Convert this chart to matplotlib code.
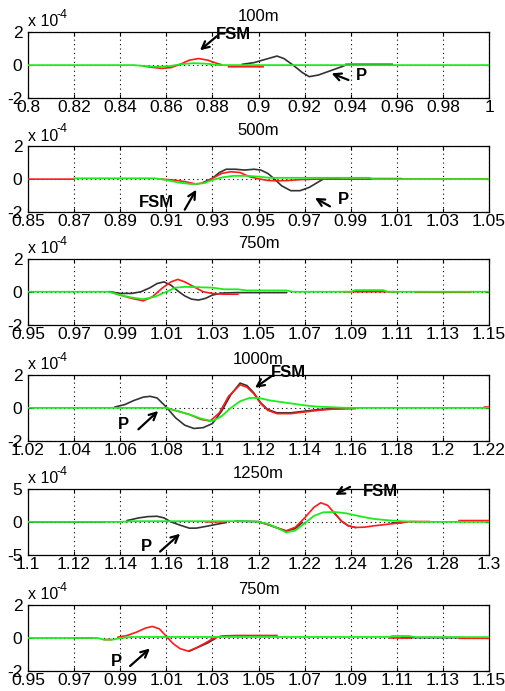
import numpy as np
import matplotlib
matplotlib.use('Agg')
import matplotlib.pyplot as plt

nan = np.nan
plt.rcParams['font.family'] = ['Liberation Sans', 'DejaVu Sans']

# ---------------- data (amplitudes in units of 1e-4) ----------------
titles = ['100m', '500m', '750m', '1000m', '1250m', '750m']
xlims = [(0.80, 1.00), (0.85, 1.05), (0.95, 1.15), (1.02, 1.22), (1.10, 1.30), (0.95, 1.15)]
ylims = [2, 2, 2, 2, 5, 2]

# panel 1 : 100m
p1_black_x = [0.893, 0.898, 0.903, 0.908, 0.911, 0.915, 0.919, 0.922, 0.926, 0.930, 0.934, 0.937, nan, 0.938, 0.958]
p1_black_y = [0.05, 0.15, 0.35, 0.55, 0.40, 0.00, -0.45, -0.70, -0.60, -0.40, -0.20, -0.05, nan, 0.05, 0.05]
p1_red_x = [0.850, 0.853, 0.858, 0.862, 0.866, 0.870, 0.874, 0.878, 0.881, 0.884, nan, 0.887, 0.902]
p1_red_y = [-0.05, -0.12, -0.20, -0.15, 0.05, 0.30, 0.40, 0.30, 0.15, 0.02, nan, -0.10, -0.10]
p1_green_x = [0.80, 0.846, 0.850, 0.856, 0.862, 0.866, 0.872, 0.878, 0.883, 1.00]
p1_green_y = [0.0, 0.0, -0.05, -0.10, -0.05, 0.05, 0.12, 0.08, 0.0, 0.0]

# panel 2 : 500m
p2_black_x = [0.926, 0.930, 0.933, 0.936, 0.940, 0.944, 0.948, 0.951, 0.954, 0.957, 0.960, 0.964, 0.968, 0.972, 0.975, 0.978, nan, 0.980, 0.985, nan, 0.998, 1.012]
p2_black_y = [-0.20, 0.05, 0.40, 0.60, 0.60, 0.55, 0.60, 0.55, 0.35, 0.00, -0.40, -0.70, -0.70, -0.50, -0.25, 0.00, nan, 0.05, 0.05, nan, 0.03, 0.03]
p2_red_x = [0.85, 0.87, nan, 0.908, 0.913, 0.918, 0.923, 0.927, 0.930, 0.934, 0.938, 0.942, 0.946, 0.950, 0.954, 0.958, 0.963, 0.968, 0.975, 1.05]
p2_red_y = [0.0, 0.0, nan, 0.0, -0.05, -0.15, -0.30, -0.20, 0.05, 0.35, 0.45, 0.40, 0.15, 0.02, -0.08, -0.10, -0.08, -0.03, 0.0, 0.0]
p2_green_x = [0.87, 0.905, 0.910, 0.915, 0.921, 0.926, 0.930, 0.934, 0.939, 0.945, 0.950, 0.955, 0.998, 1.000, 1.05]
p2_green_y = [0.05, 0.05, -0.05, -0.20, -0.30, -0.25, -0.05, 0.10, 0.20, 0.20, 0.15, 0.08, 0.08, 0.0, 0.0]

# panel 3 : 750m
p3_black_x = [0.9856, 0.990, 0.995, 0.999, 1.003, 1.006, 1.009, 1.012, 1.015, 1.018, 1.021, 1.024, 1.027, 1.030, 1.034, 1.040, 1.062]
p3_black_y = [0.0, -0.10, -0.10, 0.0, 0.25, 0.50, 0.60, 0.40, 0.05, -0.25, -0.45, -0.50, -0.40, -0.20, -0.08, -0.05, -0.05]
p3_red_x = [0.9856, 0.990, 0.995, 1.000, 1.004, 1.008, 1.012, 1.015, 1.018, 1.022, 1.026, 1.030, 1.035, 1.041, nan, 1.087, 1.110, nan, 1.118, 1.142]
p3_red_y = [0.0, -0.20, -0.40, -0.55, -0.30, 0.20, 0.60, 0.75, 0.60, 0.30, 0.0, -0.10, -0.15, -0.15, nan, 0.0, 0.0, nan, -0.03, -0.03]
p3_green_x = [0.95, 0.985, 0.990, 0.995, 1.000, 1.005, 1.010, 1.014, 1.018, 1.030, 1.035, 1.041, 1.045, 1.062, 1.065, 1.090, 1.092, 1.104, 1.106, 1.15]
p3_green_y = [0.0, 0.0, -0.20, -0.35, -0.45, -0.30, 0.0, 0.25, 0.30, 0.25, 0.15, 0.15, 0.08, 0.08, 0.0, 0.0, 0.10, 0.10, 0.0, 0.0]

# panel 4 : 1000m
p4_black_x = [1.0577, 1.062, 1.066, 1.070, 1.073, 1.076, 1.080, 1.084, 1.088, 1.092, 1.096, 1.100, 1.104, 1.108, 1.112, 1.115, 1.118, 1.121, 1.124, 1.128, 1.134, 1.140, 1.146, 1.152, 1.158]
p4_black_y = [0.05, 0.20, 0.45, 0.65, 0.70, 0.60, 0.05, -0.60, -1.05, -1.25, -1.20, -0.95, -0.20, 0.80, 1.50, 1.35, 0.90, 0.30, -0.10, -0.30, -0.30, -0.20, -0.10, -0.05, -0.02]
p4_red_x = [1.080, 1.085, 1.090, 1.095, 1.099, 1.103, 1.107, 1.112, 1.115, 1.118, 1.121, 1.124, 1.128, 1.134, 1.140, 1.146, 1.152, 1.162, nan, 1.218, 1.220]
p4_red_y = [0.0, -0.20, -0.40, -0.70, -0.80, -0.30, 0.70, 1.40, 1.25, 0.85, 0.25, -0.15, -0.35, -0.35, -0.25, -0.15, -0.08, -0.05, nan, 0.05, 0.05]
p4_green_x = [1.02, 1.080, 1.085, 1.090, 1.095, 1.100, 1.104, 1.108, 1.112, 1.116, 1.120, 1.125, 1.130, 1.135, 1.140, 1.145, 1.150, 1.158, 1.22]
p4_green_y = [0.0, 0.0, -0.20, -0.40, -0.65, -0.80, -0.50, 0.0, 0.40, 0.60, 0.60, 0.45, 0.35, 0.25, 0.15, 0.08, 0.05, 0.0, 0.0]

# panel 5 : 1250m
p5_black_x = [1.10, 1.133, nan, 1.143, 1.148, 1.152, 1.156, 1.159, 1.162, 1.166, 1.170, 1.173, 1.177, 1.182, 1.186, nan, 1.190, 1.200, 1.204, 1.208, 1.212, 1.216, 1.219, nan, 1.233, 1.236, 1.239, 1.242, nan, 1.258, 1.262]
p5_black_y = [0.0, 0.0, nan, 0.20, 0.60, 0.80, 0.85, 0.60, 0.0, -0.50, -0.95, -0.95, -0.70, -0.35, -0.10, nan, 0.10, 0.05, -0.40, -0.90, -1.40, -1.00, -0.10, nan, 1.30, 0.10, -0.60, -0.85, nan, -0.15, -0.15]
p5_red_x = [1.177, 1.185, nan, 1.200, 1.204, 1.208, 1.212, 1.216, 1.220, 1.224, 1.227, 1.230, 1.233, 1.236, 1.239, 1.242, 1.246, 1.250, 1.255, 1.260, 1.266, 1.274, nan, 1.287, 1.30]
p5_red_y = [0.0, 0.0, nan, 0.0, -0.40, -0.90, -1.35, -0.80, 0.60, 2.20, 2.90, 2.50, 1.30, 0.10, -0.60, -0.85, -0.80, -0.60, -0.40, -0.20, 0.05, 0.05, nan, 0.20, 0.20]
p5_green_x = [1.10, 1.140, 1.145, 1.195, 1.200, 1.204, 1.208, 1.212, 1.216, 1.220, 1.224, 1.228, 1.233, 1.238, 1.242, 1.246, 1.250, 1.256, 1.262, 1.270, 1.30]
p5_green_y = [0.0, 0.0, 0.10, 0.10, 0.0, -0.30, -0.90, -1.60, -1.30, -0.20, 0.90, 1.45, 1.50, 1.30, 1.00, 0.70, 0.45, 0.25, 0.10, 0.0, 0.0]

# panel 6 : 750m
p6_black_x = [1.020, 1.024, 1.028, 1.031, nan, 1.112, 1.138]
p6_black_y = [-0.80, -0.55, -0.30, -0.05, nan, 0.02, 0.02]
p6_red_x = [0.970, 0.978, nan, 0.983, 0.986, nan, 0.989, 0.993, 0.997, 1.001, 1.004, 1.007, 1.010, 1.013, 1.016, 1.0195, 1.023, 1.027, 1.030, 1.034, 1.040, 1.058, nan, 1.107, 1.116, nan, 1.137, 1.15]
p6_red_y = [0.0, 0.0, nan, -0.10, -0.10, nan, 0.05, 0.15, 0.35, 0.60, 0.70, 0.55, 0.10, -0.35, -0.65, -0.80, -0.60, -0.30, -0.05, 0.12, 0.15, 0.15, nan, 0.0, 0.0, nan, -0.02, -0.02]
p6_green_x = [0.95, 0.980, 0.983, 0.987, 0.990, 0.995, 1.107, 1.108, 1.115, 1.118, 1.15]
p6_green_y = [0.0, 0.0, -0.10, -0.10, 0.0, 0.06, 0.06, 0.12, 0.12, 0.05, 0.05]

blacks = [(p1_black_x, p1_black_y), (p2_black_x, p2_black_y), (p3_black_x, p3_black_y),
          (p4_black_x, p4_black_y), (p5_black_x, p5_black_y), (p6_black_x, p6_black_y)]
reds = [(p1_red_x, p1_red_y), (p2_red_x, p2_red_y), (p3_red_x, p3_red_y),
        (p4_red_x, p4_red_y), (p5_red_x, p5_red_y), (p6_red_x, p6_red_y)]
greens = [(p1_green_x, p1_green_y), (p2_green_x, p2_green_y), (p3_green_x, p3_green_y),
          (p4_green_x, p4_green_y), (p5_green_x, p5_green_y), (p6_green_x, p6_green_y)]

# annotations: (label, text position, arrow tail, arrow head)
annotations = [
    [('FSM', (0.889, 1.85), (0.8819, 1.75), (0.8746, 0.9)),
     ('P', (0.9448, -0.6), (0.939, -0.9), (0.9317, -0.5))],
    [('FSM', (0.9058, -1.4), (0.918, -1.85), (0.923, -0.64)),
     ('P', (0.9868, -1.24), (0.981, -1.65), (0.9745, -1.14))],
    [],
    [('FSM', (1.1329, 2.15), (1.1257, 1.93), (1.1185, 1.22)),
     ('P', (1.0613, -1.0), (1.0679, -1.3), (1.0765, -0.19))],
    [('FSM', (1.2527, 4.6), (1.2397, 5.3), (1.2332, 4.1)),
     ('P', (1.1515, -3.74), (1.1573, -4.5), (1.166, -1.8))],
    [('P', (0.9885, -1.4), (0.9943, -1.7), (1.0029, -0.64))],
]

# ---------------- figure ----------------
fig = plt.figure(figsize=(5.05, 6.91), dpi=100)
bottoms = [0.858, 0.693, 0.530, 0.362, 0.197, 0.029]
left, width, height = 0.0554, 0.913, 0.0955

BLACK = '#333333'
RED = '#ff1a1a'
GREEN = '#1aee1a'

for i in range(6):
    ax = fig.add_axes([left, bottoms[i], width, height])
    lo, hi = xlims[i]
    ym = ylims[i]
    ax.plot(*blacks[i], color=BLACK, lw=1.2, zorder=3)
    ax.plot(*reds[i], color=RED, lw=1.2, zorder=4)
    ax.plot(*greens[i], color=GREEN, lw=1.3, zorder=5)
    ax.set_xlim(lo, hi)
    ax.set_ylim(-ym, ym)
    xt = np.round(np.linspace(lo, hi, 11), 2)
    ax.set_xticks(xt)
    ax.set_xticklabels(['%g' % v for v in xt])
    ax.set_yticks([-ym, 0, ym])
    ax.set_yticklabels(['%g' % v for v in [-ym, 0, ym]])
    ax.grid(True, color='k', linestyle=(0, (1, 3)), linewidth=0.8, zorder=1)
    ax.set_axisbelow(True)
    ax.tick_params(direction='in', length=3, top=True, right=True,
                   labelsize=12.5, pad=1.5, colors='k')
    ax.tick_params(axis='y', pad=4)
    for s in ax.spines.values():
        s.set_linewidth(0.9)
        s.set_color('k')
    ax.set_title(titles[i], fontsize=12, pad=8)
    ax.text(0.0, 1.04, 'x 10', transform=ax.transAxes, fontsize=11.5,
            ha='left', va='bottom')
    ax.text(0.061, 1.17, '-4', transform=ax.transAxes, fontsize=9,
            ha='left', va='bottom')
    for lab, txy, tail, head in annotations[i]:
        ax.annotate('', xy=head, xytext=tail, annotation_clip=False,
                    arrowprops=dict(arrowstyle='->', lw=1.6, color='k',
                                    mutation_scale=13, shrinkA=0, shrinkB=0),
                    zorder=6)
        ax.text(txy[0], txy[1], lab, fontsize=12, fontweight='bold',
                ha='center', va='center', clip_on=False, zorder=7)

fig.savefig('out.png', dpi=100)
